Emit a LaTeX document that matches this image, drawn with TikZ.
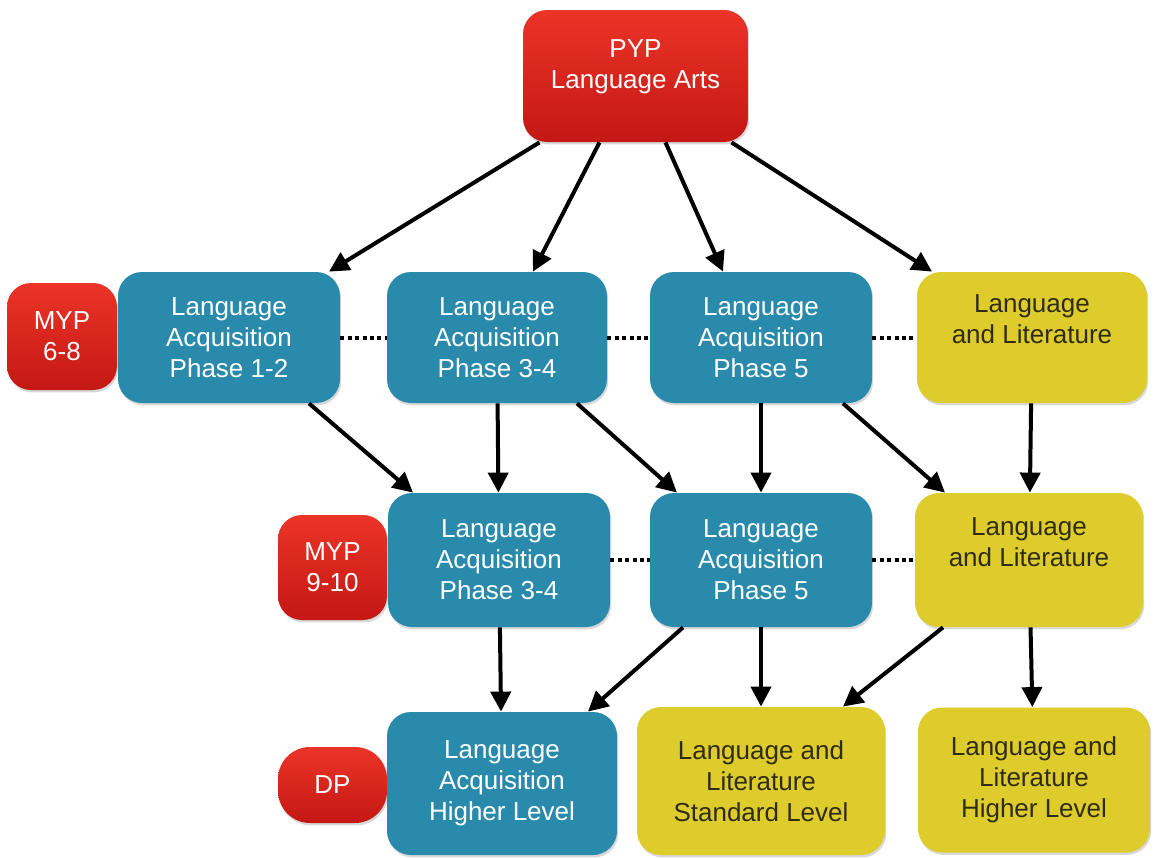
\documentclass[tikz,border=0pt]{standalone}
\usepackage{fontspec}
\setmainfont{Liberation Sans}
\usepackage{tikz}
\usetikzlibrary{positioning, arrows.meta, shadows, calc}

\begin{document}
\begin{tikzpicture}[
    x=0.5pt, y=-0.5pt,
    % rounded boxes, text set a bit larger than normal
    block/.style={rectangle, rounded corners=12pt, align=center, inner sep=3pt,
                  font=\fontsize{13}{15.5}\selectfont,
                  drop shadow={shadow xshift=0.6pt, shadow yshift=-1.2pt, opacity=0.3}},
    stage/.style={block, top color=redTop, bottom color=redBot, text=white},
    acq/.style={block, fill=acqC, text=white},
    lit/.style={block, fill=litC, text=litT},
    arrow/.style={line width=2pt, -{Triangle[length=10pt, width=10pt]}},
    link/.style={line width=2pt, dash pattern=on 2pt off 1.7pt}
]

\definecolor{redTop}{RGB}{236,52,40}
\definecolor{redBot}{RGB}{196,24,20}
\definecolor{acqC}{RGB}{42,138,172}
\definecolor{litC}{RGB}{222,204,44}
\definecolor{litT}{RGB}{48,44,20}

\fill[white] (0,0) rectangle (1164,858);
\useasboundingbox (0,0) rectangle (1164,858);

% PYP (trailing \\ lifts the text a little)
\node[stage, minimum width=112.5pt, minimum height=66pt] (pyp) at (635.5,76)
  {PYP\\Language Arts\\[-3.5pt]};

% MYP 6-8 row
\node[stage, minimum width=55pt, minimum height=53.5pt] (myp68) at (62,336.5) {MYP\\6-8};
\node[acq, minimum width=111pt, minimum height=65.5pt] (la12) at (229,337.5)
  {Language\\Acquisition\\Phase 1-2};
\node[acq, minimum width=110pt, minimum height=65.5pt] (la34a) at (497,337.5)
  {Language\\Acquisition\\Phase 3-4};
\node[acq, minimum width=111pt, minimum height=65.5pt] (la5a) at (761,337.5)
  {Language\\Acquisition\\Phase 5};
\node[lit, minimum width=115pt, minimum height=65.5pt] (lla) at (1032,337.5)
  {Language\\and Literature\\[2.5pt]};

% MYP 9-10 row
\node[stage, minimum width=54.5pt, minimum height=52.5pt] (myp910) at (332.5,567.5) {MYP\\9-10};
\node[acq, minimum width=111pt, minimum height=67pt] (la34b) at (499,560)
  {Language\\Acquisition\\Phase 3-4};
\node[acq, minimum width=111pt, minimum height=67pt] (la5b) at (761,560)
  {Language\\Acquisition\\Phase 5};
\node[lit, minimum width=114pt, minimum height=67pt] (llb) at (1029,560)
  {Language\\and Literature\\[2.5pt]};

% DP row
\node[stage, rounded corners=16pt, minimum width=54.5pt, minimum height=38pt] (dp) at (332.5,785) {DP};
\node[acq, minimum width=115pt, minimum height=71.5pt] (lahl) at (502,783.5)
  {Language\\Acquisition\\Higher Level};
\node[lit, minimum width=124pt, minimum height=74pt] (llsl) at (761,781)
  {Language and\\Literature\\Standard Level};
\node[lit, minimum width=116pt, minimum height=72.5pt] (llhl) at (1034,780)
  {Language and\\Literature\\Higher Level};

% PYP down to MYP 6-8
\draw[arrow] ([xshift=-48pt]pyp.south) -- ([xshift=50pt]la12.north);
\draw[arrow] ([xshift=-18pt]pyp.south) -- ([xshift=18pt]la34a.north);
\draw[arrow] ([xshift=15pt]pyp.south) -- ([xshift=-19pt]la5a.north);
\draw[arrow] ([xshift=48pt]pyp.south) -- ([xshift=-50pt]lla.north);

% MYP 6-8 down to MYP 9-10
\draw[arrow] ([xshift=40pt]la12.south) -- ([xshift=-43pt]la34b.north);
\draw[arrow] (la34a) -- (la34b);
\draw[arrow] ([xshift=40pt]la34a.south) -- ([xshift=-42pt]la5b.north);
\draw[arrow] (la5a) -- (la5b);
\draw[arrow] ([xshift=41pt]la5a.south) -- ([xshift=-42pt]llb.north);
\draw[arrow] (lla) -- (llb);

% MYP 9-10 down to DP
\draw[arrow] (la34b) -- (lahl);
\draw[arrow] ([xshift=-39pt]la5b.south) -- ([xshift=43pt]lahl.north);
\draw[arrow] (la5b) -- (llsl);
\draw[arrow] ([xshift=-43pt]llb.south) -- ([xshift=41pt]llsl.north);
\draw[arrow] (llb) -- (llhl);

% dotted links inside a row
\draw[link] (la12) -- (la34a);
\draw[link] (la34a) -- (la5a);
\draw[link] (la5a) -- (lla);
\draw[link] (la34b) -- (la5b);
\draw[link] (la5b) -- (llb);

\end{tikzpicture}
\end{document}
